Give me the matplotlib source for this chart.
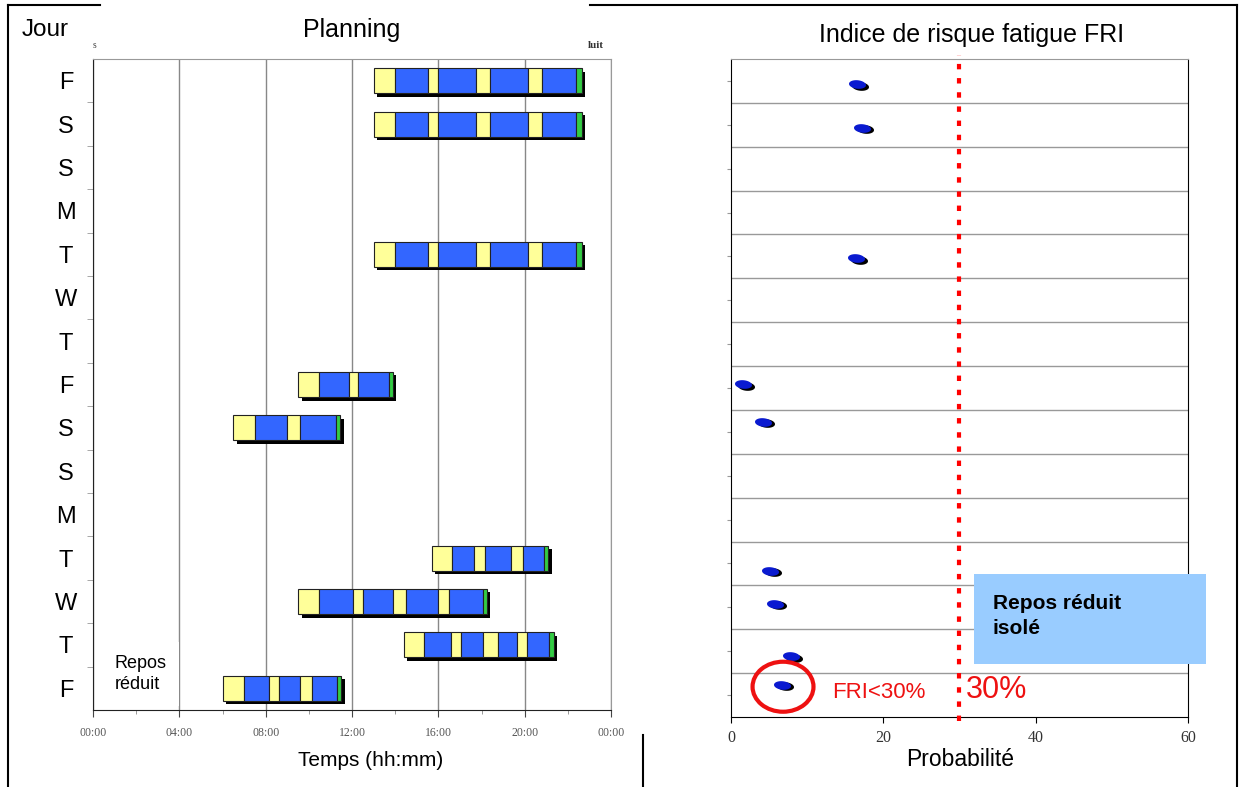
import numpy as np
import matplotlib
matplotlib.use('Agg')
import matplotlib.pyplot as plt
from matplotlib.path import Path
from matplotlib.patches import Ellipse, Rectangle
from matplotlib.lines import Line2D
from matplotlib.transforms import ScaledTranslation, offset_copy

plt.rcParams['font.family'] = ['Liberation Sans', 'DejaVu Sans']

# Days of the schedule (one row each, top to bottom)
days = ['F', 'S', 'S', 'M', 'T', 'W', 'T', 'F', 'S', 'S', 'M', 'T', 'W', 'T', 'F']

# Duty periods: row index and the hours where the segment type changes
# (yellow / blue alternate, last segment is green)
shift_rows = [0, 1, 4, 7, 8, 11, 12, 13, 14]
shift_bounds = [
    [13.0, 13.97, 15.5, 16.0, 17.75, 18.4, 20.15, 20.8, 22.4, 22.65],
    [13.0, 13.97, 15.5, 16.0, 17.75, 18.4, 20.15, 20.8, 22.4, 22.65],
    [13.0, 13.97, 15.5, 16.0, 17.75, 18.4, 20.15, 20.8, 22.4, 22.65],
    [9.5, 10.45, 11.85, 12.3, 13.7, 13.9],
    [6.5, 7.5, 9.0, 9.6, 11.25, 11.45],
    [15.7, 16.65, 17.65, 18.15, 19.35, 19.9, 20.9, 21.1],
    [9.5, 10.45, 12.05, 12.5, 13.9, 14.5, 16.0, 16.5, 18.05, 18.25],
    [14.4, 15.35, 16.6, 17.05, 18.05, 18.75, 19.65, 20.1, 21.15, 21.35],
    [6.0, 7.0, 8.15, 8.6, 9.6, 10.15, 11.3, 11.5],
]

hour_ticks = [0, 4, 8, 12, 16, 20, 24]
hour_labels = ['00:00', '04:00', '08:00', '12:00', '16:00', '20:00', '00:00']

# Fatigue risk index (probability %) and vertical position in row units
fri_values = [16.5, 17.2, 16.4, 1.6, 4.2, 5.1, 5.8, 7.9, 6.7]
fri_pos = [0.57, 1.57, 4.54, 7.41, 8.27, 11.67, 12.42, 13.61, 14.27]
fri_ticks = [0, 20, 40, 60]
fri_threshold = 30

W, H = 1245, 787
fig = plt.figure(figsize=(W / 100, H / 100), dpi=100)


def fx(x):
    return x / W


def fy(y):
    return 1 - y / H


YELLOW = '#ffff99'
BLUE = '#3366ff'
GREEN = '#33cc44'

# ---------------- left panel : planning ----------------
ax1 = fig.add_axes([fx(93), fy(710), (611 - 93) / W, (710 - 59) / H])
ax1.set_xlim(0, 24)
ax1.set_ylim(len(days), 0)
ax1.set_axisbelow(True)

shadow_tr = ax1.transData + ScaledTranslation(2.5 / 72, -2.5 / 72, fig.dpi_scale_trans)
bar_h = 0.58
for row, b in zip(shift_rows, shift_bounds):
    b = np.array(b)
    n = len(b) - 1
    colors = [YELLOW if k % 2 == 0 else BLUE for k in range(n - 1)] + [GREEN]
    ax1.barh(row + 0.5, b[-1] - b[0], left=b[0], height=bar_h, color='black',
             transform=shadow_tr, zorder=2)
    ax1.barh([row + 0.5] * n, np.diff(b), left=b[:-1], height=bar_h, color=colors,
             edgecolor='#222222', linewidth=0.8, zorder=3)

ax1.set_xticks(hour_ticks, hour_labels, fontfamily='Liberation Serif', fontsize=8.5, color='#555555')
ax1.set_xticks(np.arange(0, 25, 2), minor=True)
ax1.tick_params(axis='x', which='major', length=5, color='#444444', pad=7)
ax1.tick_params(axis='x', which='minor', length=3, color='#888888')
ax1.set_yticks(np.arange(len(days)) + 0.5, days, fontsize=17)
ax1.set_yticks(np.arange(1, len(days)), minor=True)
ax1.tick_params(axis='y', which='major', length=0, pad=19.5)
ax1.tick_params(axis='y', which='minor', length=4, color='#999999')
for lbl in ax1.get_yticklabels():
    lbl.set_horizontalalignment('center')
ax1.grid(axis='x', which='major', color='#888888', linewidth=1)
for s in ['top', 'right']:
    ax1.spines[s].set_color('#999999')
for s in ['left', 'bottom']:
    ax1.spines[s].set_color('#222222')

ax1.text(1.0, 14.17, 'Repos\nréduit', fontsize=13, va='center', ha='left', linespacing=1.35,
         bbox=dict(fc='white', ec='none', pad=9), zorder=1.5)

# ---------------- right panel : FRI ----------------
ax2 = fig.add_axes([fx(731), fy(717), (1188 - 731) / W, (717 - 59) / H])
ax2.set_xlim(0, 60)
ax2.set_ylim(len(days), 0)
ax2.set_axisbelow(True)
ax2.set_xticks(fri_ticks, [str(v) for v in fri_ticks], fontfamily='Liberation Serif',
               fontsize=11.5, color='#333333')
ax2.tick_params(axis='x', length=4, pad=5)
ax2.set_yticks(np.arange(len(days)) + 0.5, [])
ax2.tick_params(axis='y', which='major', length=3, color='#999999')
ax2.set_yticks(np.arange(1, len(days)), minor=True)
ax2.tick_params(axis='y', which='minor', length=0)
ax2.grid(axis='y', which='minor', color='#999999', linewidth=1)
ax2.spines['top'].set_color('#999999')

t = np.linspace(0, 2 * np.pi, 50)
ang = np.deg2rad(-6)
ex, ey = np.cos(t), 0.5 * np.sin(t)
ell = Path(np.c_[ex * np.cos(ang) - ey * np.sin(ang), ex * np.sin(ang) + ey * np.cos(ang)], closed=True)
dot_shadow = offset_copy(ax2.transData, fig=fig, x=3, y=-1.5, units='dots')
ax2.scatter(fri_values, fri_pos, marker=ell, s=150, c='black', linewidths=0,
            transform=dot_shadow, zorder=3)
ax2.scatter(fri_values, fri_pos, marker=ell, s=150, c='#0a1ad0', linewidths=0, zorder=4)

ax2.axvline(fri_threshold, ymin=-0.006, ymax=1.006, color='#ff0000', linewidth=3,
            linestyle=(0, (1.3, 2.1)), clip_on=False, zorder=5)
ax2.add_patch(Ellipse((6.83, 14.31), 8.0, 1.14, fill=False, edgecolor='#ee1111',
                      linewidth=3, zorder=6, clip_on=False))

# ---------------- annotations & labels ----------------
fig.text(fx(22), fy(30), 'Jour', fontsize=17.5, va='center', ha='left')
fig.text(fx(352), fy(30), 'Planning', fontsize=18, va='center', ha='center')
fig.text(fx(972), fy(35), 'Indice de risque fatigue FRI', fontsize=18, va='center', ha='center')
fig.text(fx(93), fy(45), 's', fontsize=7, fontfamily='Liberation Serif', va='center', color='#444444')
fig.text(fx(588), fy(45), 'luit', fontsize=8, fontfamily='Liberation Serif', fontweight='bold',
         va='center', color='#333333')
fig.text(fx(371), fy(761), 'Temps (hh:mm)', fontsize=15, va='center', ha='center')
fig.text(fx(960), fy(759), 'Probabilité', fontsize=16.5, va='center', ha='center')

fig.text(fx(832), fy(693), 'FRI<30%', fontsize=16, color='#ee1111', va='center', ha='left')
fig.text(fx(966), fy(690), '30%', fontsize=22, color='#ee1111', va='center', ha='left')

fig.add_artist(Rectangle((fx(974), fy(664)), (1206 - 974) / W, (664 - 574) / H,
                         transform=fig.transFigure, facecolor='#99ccff', edgecolor='none'))
fig.text(fx(993), fy(616), 'Repos réduit\nisolé', fontsize=15, fontweight='bold',
         va='center', ha='left', linespacing=1.45)

# outer frame pieces
frame = [
    ([8, 8], [5, 787]),
    ([8, 100], [5, 5]),
    ([590, 1237], [5, 5]),
    ([1237, 1237], [5, 787]),
    ([643, 643], [735, 787]),
]
for xs, ys in frame:
    fig.add_artist(Line2D([fx(x) for x in xs], [fy(y) for y in ys], transform=fig.transFigure,
                          color='black', linewidth=1.5))

fig.savefig('out.png', dpi=100)
